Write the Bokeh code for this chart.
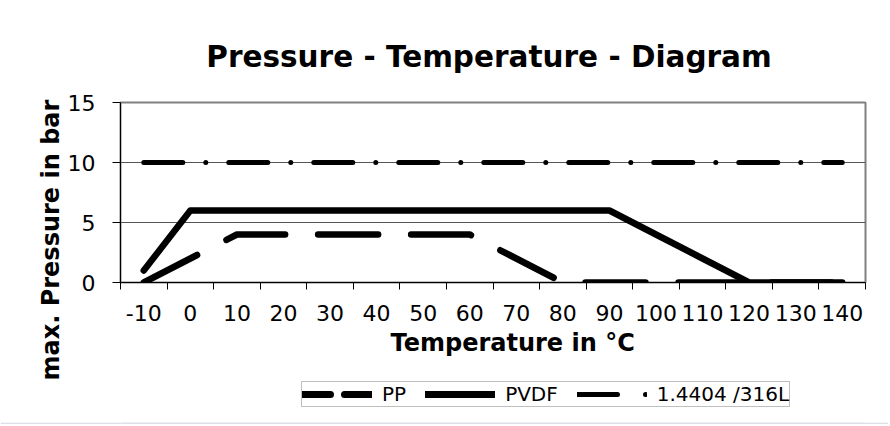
from bokeh.plotting import figure
from bokeh.layouts import column
from bokeh.models import Range1d, FixedTicker, Legend, LegendItem, Title, Label
from bokeh.embed import file_html
from bokeh.resources import INLINE

# ---- data ----
temps = [-10, 0, 10, 20, 30, 40, 50, 60, 70, 80, 90, 100, 110, 120, 130, 140]
tick_labels = ["-10", "0", "10", "20", "30", "40", "50", "60", "70", "80",
               "90", "100", "110", "120", "130", "140"]
pp = [0, 2, 4, 4, 4, 4, 4, 4, 2, 0, 0, 0, 0, 0, 0, 0]
pvdf = [1, 6, 6, 6, 6, 6, 6, 6, 6, 6, 6, 4, 2, 0, 0, 0]
steel = [10, 10, 10, 10, 10, 10, 10, 10, 10, 10, 10, 10, 10, 10, 10, 10]
series_names = ["PP", "PVDF", "1.4404 /316L"]
y_ticks = [0, 5, 10, 15]
title_text = "Pressure - Temperature - Diagram"
x_title = "Temperature in °C"
y_title = "max. Pressure in bar"

# ---- geometry (page pixels) ----
W = 888
H0, H1, H2, H3 = 80, 301, 36, 7          # title strip, chart, legend strip, bottom band
FL, FR = 120, 865                          # plot frame left/right
FT, FB = 102 - H0, 282 - H0                # plot frame top/bottom inside chart figure

def strip(height, fill="white"):
    f = figure(width=W, height=height, output_backend="svg", toolbar_location=None,
               x_range=Range1d(FL, FR), y_range=Range1d(height, 0),
               x_axis_type=None, y_axis_type=None,
               min_border_left=0, min_border_right=0, min_border_top=0, min_border_bottom=0,
               background_fill_color=fill, border_fill_color=fill)
    f.outline_line_color = None
    f.grid.visible = False
    return f

# ---- title strip ----
p0 = strip(H0)
p0.add_layout(Label(x=488.5, y=56, text=title_text, text_align="center",
                    text_baseline="alphabetic", text_font="DejaVu Sans",
                    text_font_style="bold", text_font_size="29.5px", text_color="black"))

# ---- chart ----
p = figure(width=W, height=H1, output_backend="svg", toolbar_location=None,
           x_range=Range1d(-15, 145), y_range=Range1d(0, 15),
           min_border_left=FL, min_border_right=W - FR,
           min_border_top=FT, min_border_bottom=H1 - FB,
           background_fill_color="white", border_fill_color="white")
p.title.text = ""
p.outline_line_color = "#808080"
p.outline_line_width = 2

# x axis: labels at category centres, ticks at category boundaries
bounds = [t - 5 for t in temps] + [temps[-1] + 5]
xa = p.xaxis[0]
xa.ticker = FixedTicker(ticks=temps, minor_ticks=bounds)
xa.major_label_overrides = {t: s for t, s in zip(temps, tick_labels)}
xa.major_tick_line_color = None
xa.major_tick_out = 7
xa.major_tick_in = 0
xa.minor_tick_out = 7
xa.minor_tick_in = 0
xa.minor_tick_line_color = "black"
xa.axis_line_color = "black"
xa.major_label_text_font = "DejaVu Sans"
xa.major_label_text_font_size = "22px"
xa.major_label_text_color = "black"
xa.major_label_standoff = 15

ya = p.yaxis[0]
ya.ticker = FixedTicker(ticks=y_ticks)
ya.major_tick_out = 8
ya.major_tick_in = 0
ya.minor_tick_line_color = None
ya.major_tick_line_color = "black"
ya.axis_line_color = "black"
ya.major_label_text_font = "DejaVu Sans"
ya.major_label_text_font_size = "22px"
ya.major_label_text_color = "black"
ya.major_label_standoff = 17

p.xgrid.visible = False
p.ygrid.ticker = FixedTicker(ticks=y_ticks[1:3])
p.ygrid.grid_line_color = "#555555"
p.ygrid.grid_line_width = 1

# ---- series ----
r_pp = p.line(temps, pp, line_color="black", line_width=6.5, line_dash="60 33",
              line_cap="round", line_join="round")
r_pvdf = p.line(temps, pvdf, line_color="black", line_width=6.5,
                line_cap="round", line_join="round")
r_steel = p.line(temps, steel, line_color="black", line_width=5,
                 line_dash="39 23 0 23", line_cap="round", line_join="round")

# axis titles as panel titles
p.add_layout(Title(text=x_title, align="left", offset=270, text_font="DejaVu Sans",
                   text_font_style="bold", text_font_size="24px",
                   text_color="black", standoff=7), "below")
p.add_layout(Title(text=y_title, align="left", offset=-98, text_font="DejaVu Sans",
                   text_font_style="bold", text_font_size="24px",
                   text_color="black", standoff=0), "left")

# ---- legend strip ----
p2 = strip(H2)
l_pp = p2.line([temps[0]], [pp[0]], line_color="black", line_width=7,
               line_dash="28 14", line_cap="round")
l_pvdf = p2.line([temps[0]], [pvdf[0]], line_color="black", line_width=7,
                 line_cap="round")
l_steel = p2.line([temps[0]], [steel[0]], line_color="black", line_width=5,
                  line_dash="40 28 0 40", line_cap="round")

legend = Legend(items=[LegendItem(label=series_names[0], renderers=[l_pp]),
                       LegendItem(label=series_names[1], renderers=[l_pvdf]),
                       LegendItem(label=series_names[2], renderers=[l_steel])],
                orientation="horizontal", location=(181, 10))
legend.glyph_width = 70
legend.glyph_height = 18
legend.label_standoff = 10
legend.spacing = 19
legend.padding = 0
legend.margin = 0
legend.border_line_color = "#808080"
legend.border_line_width = 1
legend.background_fill_color = "white"
legend.background_fill_alpha = 1
legend.label_text_font = "DejaVu Sans"
legend.label_text_font_size = "20px"
legend.label_text_color = "black"
p2.add_layout(legend, "center")

# ---- bottom band ----
p3 = strip(H3, fill="#dcdfe6")

layout = column(p0, p, p2, p3, spacing=0)
open("out.html", "w").write(file_html(layout, INLINE))
